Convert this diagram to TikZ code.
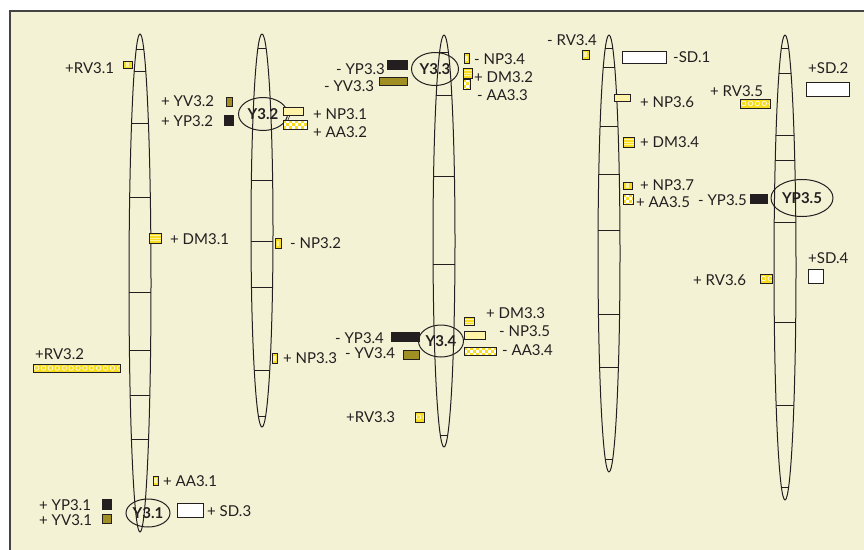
\documentclass[tikz,border=0pt]{standalone}
\usepackage{fontspec}
\setmainfont{Lato}
\usetikzlibrary{shapes.geometric,calc}
\definecolor{cream}{HTML}{F3F2D5}
\definecolor{ink}{HTML}{231F20}
\definecolor{framec}{HTML}{444444}
\definecolor{yel}{HTML}{F7DD1E}
\definecolor{lighty}{HTML}{FFF3A8}
\definecolor{olive}{HTML}{A08F22}
\newcommand{\chromo}[5]{%
  \pgfmathsetmacro\cyy{(#3+#4)/2}\pgfmathsetmacro\ryy{(#4-#3)/2}%
  \begin{scope}
    \clip (#2,\cyy) ellipse [x radius=11, y radius=\ryy];
    \foreach \yy in {#5} \draw[chrline] (#2-13,\yy) -- (#2+13,\yy);
  \end{scope}
  \node[chr, minimum height={#4-#3}] (#1) at (#2,\cyy) {};}
\newcommand{\mkbox}[6]{\node[mk,#2,minimum width={#5-#3},minimum height={#6-#4}] (#1) at ({(#3+#5)/2},{(#4+#6)/2}) {};}
\begin{document}
\begin{tikzpicture}[x=1pt,y=-1pt,
  chrline/.style={draw=ink, line width=1pt},
  chr/.style={ellipse, draw=ink, line width=1pt, minimum width=22, inner sep=0pt, outer sep=0pt},
  lab/.style={inner sep=0pt, anchor=west, text height=10pt, text depth=0pt, font=\fontsize{15}{17}\selectfont, text=ink},
  loc/.style={ellipse, draw=ink, line width=1pt, inner sep=0pt, font=\bfseries\fontsize{15}{17}\selectfont, text=ink},
  mk/.style={draw=ink, line width=0.9pt, inner sep=0pt, outer sep=0pt},
  ypb/.style={fill=ink},
  yvb/.style={fill=olive},
  sdb/.style={fill=white},
  npb/.style={fill=lighty},
  smb/.style={fill=yel, path picture={\fill[lighty] ($(path picture bounding box.center)+(-1.2,-2.5)$) rectangle ++(2.4,5);}},
  rvb/.style={fill=yel, path picture={\foreach \i in {0,...,14} \draw[white, line width=0.6pt] ($(path picture bounding box.west)+(3.6+6.9*\i,0)$) circle [radius=2.3];}},
  dmb/.style={fill=yel, path picture={\foreach \i in {1,...,4} \draw[lighty, line width=0.5pt] ($(path picture bounding box.north west)+(0,2.5*\i)$) -- ++(40,0);}},
  aab/.style={fill=white, path picture={\foreach \j/\o in {0/0,1/3,2/0,3/3} \foreach \i in {0,...,6} \fill[yel] ($(path picture bounding box.north west)+(\o+6*\i,3*\j)$) rectangle ++(3,3);}}
]
\useasboundingbox (0,0) rectangle (864,549);
\clip (0,0) rectangle (864,549);
\fill[white] (0,0) rectangle (864,549);
\draw[fill=cream, draw=framec, line width=1.2pt] (10,11) rectangle (880,570);

% chromosomes
\chromo{c1}{140}{34}{532}{49,71,123,197,292,350,395,439}
\chromo{c2}{262}{34}{427}{48,180,241,287,370,416}
\chromo{c3}{444}{35}{447}{52,95,176,264,435}
\chromo{c4}{609}{35}{472}{48,67,126,174,230,314,367,459}
\chromo{c5}{785}{35}{500}{48,73,135,160,222,322,405,487}

% locus ellipses
\node[loc, minimum width=44, minimum height=28] (y31) at (148,513) {Y3.1};
\node[loc, minimum width=49, minimum height=33] (y32) at (263,114) {Y3.2};
\node[loc, minimum width=47, minimum height=33] (y33) at (435,69) {Y3.3};
\node[loc, minimum width=45, minimum height=32] (y34) at (441,341) {Y3.4};
\node[loc, minimum width=62, minimum height=37] (yp35) at (802,198) {YP3.5};

% chromosome 1 markers
\mkbox{brv31}{smb}{123}{61}{132}{68}
\node[lab] (lrv31) at (65,68) {+RV3.1};
\mkbox{bdm31}{dmb}{149}{233}{161}{243}
\node[lab] (ldm31) at (170,239) {+ DM3.1};
\mkbox{brv32}{rvb}{33}{364}{120}{372}
\node[lab] (lrv32) at (35,354) {+RV3.2};
\mkbox{baa31}{smb}{153}{476}{158}{485}
\node[lab] (laa31) at (163,481) {+ AA3.1};
\mkbox{byp31}{ypb}{102}{499}{111}{509}
\node[lab] (lyp31) at (39,505) {+ YP3.1};
\mkbox{byv31}{yvb}{102}{514}{111}{523}
\node[lab] (lyv31) at (39,520) {+ YV3.1};
\mkbox{bsd3}{sdb}{177}{503}{203}{517}
\node[lab] (lsd3) at (207,511) {+ SD.3};

% chromosome 2 markers
\mkbox{byv32}{yvb}{226}{97}{232}{106}
\node[lab] (lyv32) at (161,101) {+ YV3.2};
\mkbox{byp32}{ypb}{224}{115}{233}{125}
\node[lab] (lyp32) at (161,121) {+ YP3.2};
\mkbox{bnp31}{npb}{283}{107}{303}{115}
\node[lab] (lnp31) at (313,114) {+ NP3.1};
\mkbox{baa32}{aab}{283}{120}{307}{129}
\node[lab] (laa32) at (313,132) {+ AA3.2};
\draw[ink, line width=0.6pt] ([xshift=-3pt]bnp31.south) -- ([xshift=-7pt]baa32.north);
\mkbox{bnp32}{smb}{275}{238}{281}{248}
\node[lab] (lnp32) at (290,243) {- NP3.2};
\mkbox{bnp33}{smb}{272}{353}{277}{363}
\node[lab] (lnp33) at (283,358) {+ NP3.3};

% chromosome 3 markers
\mkbox{byp33}{ypb}{387}{60}{407}{69}
\node[lab] (lyp33) at (336,69) {- YP3.3};
\mkbox{byv33}{yvb}{379}{77}{407}{85}
\node[lab] (lyv33) at (324,86) {- YV3.3};
\mkbox{bnp34}{smb}{464}{53}{469}{63}
\node[lab] (lnp34) at (474,59) {- NP3.4};
\mkbox{bdm32}{dmb}{463}{68}{472}{78}
\node[lab] (ldm32) at (474,77) {+ DM3.2};
\mkbox{baa33}{aab}{463}{79}{470}{89}
\node[lab] (laa33) at (477,95) {- AA3.3};
\mkbox{bdm33}{dmb}{464}{317}{474}{325}
\node[lab] (ldm33) at (486,313) {+ DM3.3};
\mkbox{bnp35}{npb}{464}{331}{485}{339}
\node[lab] (lnp35) at (499,331) {- NP3.5};
\mkbox{baa34}{aab}{464}{347}{496}{355}
\node[lab] (laa34) at (502,350) {- AA3.4};
\mkbox{byp34}{ypb}{391}{332}{419}{341}
\node[lab] (lyp34) at (335,338) {- YP3.4};
\mkbox{byv34}{yvb}{403}{350}{419}{359}
\node[lab] (lyv34) at (345,353) {- YV3.4};
\mkbox{brv33}{rvb}{415}{412}{424}{422}
\node[lab] (lrv33) at (346,417) {+RV3.3};

% chromosome 4 markers
\mkbox{brv34}{smb}{582}{50}{589}{59}
\node[lab] (lrv34) at (547,40) {- RV3.4};
\mkbox{bsd1}{sdb}{622}{51}{666}{63}
\node[lab] (lsd1) at (673,57) {-SD.1};
\mkbox{bnp36}{npb}{614}{94}{630}{101}
\node[lab] (lnp36) at (640,102) {+ NP3.6};
\mkbox{bdm34}{dmb}{623}{137}{634}{147}
\node[lab] (ldm34) at (640,142) {+ DM3.4};
\mkbox{bnp37}{smb}{623}{182}{632}{189}
\node[lab] (lnp37) at (640,185) {+ NP3.7};
\mkbox{baa35}{aab}{623}{194}{633}{204}
\node[lab] (laa35) at (636,202) {+ AA3.5};

% chromosome 5 markers
\mkbox{byp35}{ypb}{750}{194}{767}{203}
\node[lab] (lyp35) at (698,200) {- YP3.5};
\mkbox{brv35}{rvb}{740}{99}{770}{108}
\node[lab] (lrv35) at (710,91) {+ RV3.5};
\mkbox{bsd2}{sdb}{806}{82}{849}{96}
\node[lab] (lsd2) at (808,68) {+SD.2};
\mkbox{bsd4}{sdb}{808}{269}{823}{283}
\node[lab] (lsd4) at (808,258) {+SD.4};
\mkbox{brv36}{rvb}{760}{274}{772}{283}
\node[lab] (lrv36) at (693,280) {+ RV3.6};
\end{tikzpicture}
\end{document}
